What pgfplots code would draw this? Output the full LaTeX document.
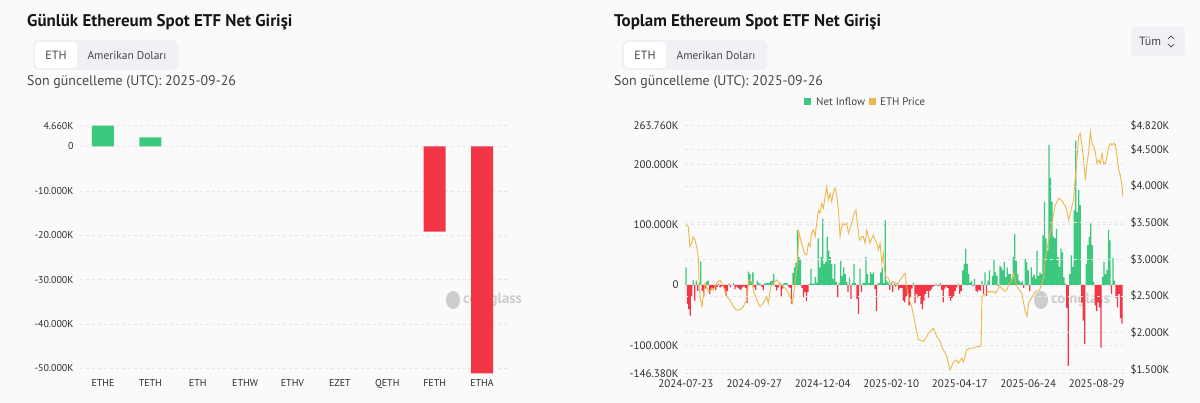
\documentclass[border=0pt]{standalone}
\usepackage{pgfplots}
\pgfplotsset{compat=1.18}
\usepackage{fontspec}
\setmainfont{PT Sans}
\definecolor{bgc}{RGB}{250,250,250}
\definecolor{pillc}{RGB}{239,241,244}
\definecolor{titlec}{RGB}{22,22,22}
\definecolor{subc}{RGB}{70,70,70}
\definecolor{tickc}{RGB}{45,45,45}
\definecolor{gridc}{RGB}{230,230,230}
\definecolor{upc}{RGB}{60,201,127}
\definecolor{downc}{RGB}{242,54,69}
\definecolor{pricec}{RGB}{236,184,76}
\definecolor{wmc}{RGB}{205,205,205}
\begin{document}
\begin{tikzpicture}
\fill[bgc] (0bp,0bp) rectangle (1200bp,403bp);
% ---------- left panel header ----------
\node[anchor=west, inner sep=0, text=titlec, font=\bfseries\fontsize{17}{20}\selectfont] at (27bp,381bp) {Günlük Ethereum Spot ETF Net Girişi};
\fill[pillc, rounded corners=5bp] (33bp,333bp) rectangle (178bp,363bp);
\fill[white, rounded corners=4bp] (35bp,335bp) rectangle (77bp,361bp);
\node[text=subc, font=\fontsize{12}{14}\selectfont] at (56bp,348bp) {ETH};
\node[text=subc, font=\fontsize{11.5}{14}\selectfont] at (127bp,348bp) {Amerikan Doları};
\node[anchor=west, inner sep=0, text=subc, font=\fontsize{14}{16}\selectfont] at (27bp,321bp) {Son güncelleme (UTC): 2025-09-26};
% watermark left
\fill[wmc] (453bp,103bp) ellipse (7bp and 9bp);
\node[anchor=west, inner sep=0, text=wmc, font=\bfseries\fontsize{15}{17}\selectfont] at (463bp,103bp) {coinglass};
% ---------- right panel header ----------
\node[anchor=west, inner sep=0, text=titlec, font=\bfseries\fontsize{17}{20}\selectfont] at (614bp,381bp) {Toplam Ethereum Spot ETF Net Girişi};
\fill[pillc, rounded corners=5bp] (622bp,333bp) rectangle (767bp,363bp);
\fill[white, rounded corners=4bp] (624bp,335bp) rectangle (666bp,361bp);
\node[text=subc, font=\fontsize{12}{14}\selectfont] at (645bp,348bp) {ETH};
\node[text=subc, font=\fontsize{11.5}{14}\selectfont] at (716bp,348bp) {Amerikan Doları};
\node[anchor=west, inner sep=0, text=subc, font=\fontsize{14}{16}\selectfont] at (614bp,321bp) {Son güncelleme (UTC): 2025-09-26};
% Tum button
\fill[pillc, rounded corners=4bp] (1131bp,347bp) rectangle (1185bp,376bp);
\node[anchor=west, inner sep=0, text=subc, font=\fontsize{12}{14}\selectfont] at (1139bp,361.5bp) {Tüm};
\draw[subc, line width=0.7bp] (1168bp,364bp) -- (1171bp,367bp) -- (1174bp,364bp);
\draw[subc, line width=0.7bp] (1168bp,359bp) -- (1171bp,356bp) -- (1174bp,359bp);
% legend
\fill[upc] (804bp,297.5bp) rectangle (811bp,304.5bp);
\node[anchor=west, inner sep=0, text=subc, font=\fontsize{11}{12}\selectfont] at (816bp,301bp) {Net Inflow};
\fill[pricec] (869bp,297.5bp) rectangle (876bp,304.5bp);
\node[anchor=west, inner sep=0, text=subc, font=\fontsize{11}{12}\selectfont] at (880bp,301bp) {ETH Price};
% watermark right
\fill[wmc] (1041bp,103bp) ellipse (7bp and 9bp);
\node[anchor=west, inner sep=0, text=wmc, font=\bfseries\fontsize{15}{17}\selectfont] at (1051bp,103bp) {coinglass};

% ---------- left axis ----------
\begin{axis}[
  at={(80bp,29.7bp)}, anchor=south west, scale only axis,
  width=427bp, height=247.6bp,
  xmin=-0.485, xmax=8.527, ymin=-51.13, ymax=4.66,
  axis line style={draw=none}, major tick length=0pt,
  ymajorgrids, grid style={dashed, gridc, line width=0.5bp},
  ytick={-50,-40,-30,-20,-10,0,4.66},
  yticklabels={-50.000K,-40.000K,-30.000K,-20.000K,-10.000K,0,4.660K},
  xtick={0,1,2,3,4,5,6,7,8},
  xticklabels={ETHE,TETH,ETH,ETHW,ETHV,EZET,QETH,FETH,ETHA},
  yticklabel style={font=\fontsize{10}{12}\selectfont, text=tickc, xshift=-3bp},
  xticklabel style={font=\fontsize{10}{12}\selectfont, text=tickc, yshift=-3bp},
]
\addplot[ybar, bar width=0.464, bar shift=0pt, fill=upc, draw=none] coordinates {(0,4.66) (1,2.05)};
\addplot[ybar, bar width=0.464, bar shift=0pt, fill=downc, draw=none] coordinates {(7,-19.2) (8,-51.13)};
\end{axis}

% ---------- right axis: bars ----------
\begin{axis}[
  at={(685bp,29.7bp)}, anchor=south west, scale only axis,
  width=439bp, height=247.6bp,
  xmin=-0.6, xmax=294.4, ymin=-146.38, ymax=263.76,
  axis line style={draw=none}, major tick length=0pt,
  ymajorgrids, grid style={dashed, gridc, line width=0.5bp},
  ytick={-146.38,-100,0,100,200,263.76},
  yticklabels={-146.380K,-100.000K,0,100.000K,200.000K,263.760K},
  xtick={0,46,92,138,184,230,276},
  xticklabels={2024-07-23,2024-09-27,2024-12-04,2025-02-10,2025-04-17,2025-06-24,2025-08-29},
  yticklabel style={font=\fontsize{11}{13}\selectfont, text=tickc, xshift=-3bp},
  xticklabel style={font=\fontsize{11}{13}\selectfont, text=tickc, yshift=-3bp},
]
\addplot[ybar, bar width=0.85, bar shift=0pt, fill=upc, draw=none] coordinates {
(0,29)(5,8)(7,7)(9,4)(10,39)(14,6)(15,7)(22,2)(29,2)(32,3)(42,22)(43,18)(44,5)(45,21)(48,7)(49,4)(50,2)(53,2)(54,3)(55,3)(56,4)(57,6)(58,7)(59,18)(63,2)(66,3)(67,3)(68,3)
(72,20)(73,29)(74,37)(75,91)(76,46)(77,43)(83,2)(84,27)(85,2)(86,2)(87,13)(88,4)(89,77)(90,29)(91,46)(92,110)(93,35)(94,38)(95,80)(96,57)(97,46)(98,35)(99,10)(100,35)(101,5)(103,3)
(104,40)(105,15)(106,29)(107,18)(108,5)(110,12)(112,3)(113,35)(114,3)(117,27)(119,3)(120,4)(121,46)(122,18)(123,3)(124,21)(125,18)(126,21)(129,2)(130,3)(131,21)(132,29)(133,3)(134,107)(135,7)(136,4)(138,3)(140,2)(142,4)
(153,4)(168,2)(171,3)(183,2)(186,24)(187,35)(188,60)(189,35)(190,18)(191,4)(192,6)(194,10)(199,7)(201,21)(203,7)(204,24)(206,15)(207,42)(208,21)(209,15)(211,32)(212,29)(213,24)(214,38)(215,13)(216,29)(217,18)(218,18)(219,10)(220,46)(221,84)(222,40)(223,18)(224,7)(225,4)(226,6)
(228,43)(229,38)(230,24)(232,29)(233,13)(234,17)(235,10)(236,57)(237,15)(238,21)(239,18)(240,82)(241,138)(242,77)(243,57)(244,232)(245,177)(246,138)(247,80)(248,77)(249,93)(250,46)(251,30)(252,60)(253,54)(254,13)(255,2)
(258,18)(259,49)(260,30)(261,124)(262,239)(263,121)(264,157)(265,132)(269,35)(270,66)(271,79)(272,102)(273,66)(274,5)(280,13)(281,38)(282,18)(283,25)(284,91)(285,74)(287,45)(288,7)
};
\addplot[ybar, bar width=0.85, bar shift=0pt, fill=downc, draw=none] coordinates {
(1,-32)(2,-40)(3,-51)(4,-20)(6,-26)(8,-10)(11,-10)(12,-20)(13,-6)(16,-15)(17,-8)(18,-6)(19,-5)(20,-8)(21,-3)(23,-4)(24,-3)(25,-2)(26,-6)(27,-18)(28,-10)(30,-4)(33,-7)(34,-3)(35,-5)(36,-7)(37,-8)(38,-4)(39,-2)(40,-5)(41,-30)
(46,-4)(47,-8)(51,-3)(52,-9)(60,-3)(61,-9)(62,-4)(64,-20)(65,-6)(69,-3)(70,-5)(71,-31)(78,-5)(79,-20)(80,-12)(81,-27)(82,-12)(102,-20)(109,-12)(111,-23)(115,-23)(116,-48)(118,-12)(127,-7)(128,-43)(137,-8)(139,-12)(141,-3)(143,-8)(144,-5)
(145,-5)(146,-26)(147,-29)(148,-20)(149,-15)(150,-34)(151,-20)(152,-6)(154,-30)(155,-15)(156,-21)(157,-18)(158,-32)(159,-40)(160,-26)(161,-15)(162,-10)(163,-21)(164,-10)(165,-7)(166,-3)(167,-2)(169,-1)(170,-2)
(172,-8)(173,-29)(174,-6)(175,-3)(176,-5)(177,-21)(178,-26)(179,-21)(180,-18)(181,-10)(182,-4)(184,-15)(185,-10)(193,-2)(195,-10)(196,-12)(197,-8)(198,-10)(200,-15)(202,-18)(210,-2)(227,-5)(231,-10)
(256,-38)(257,-134)(266,-29)(267,-59)(268,-98)(275,-34)(276,-43)(277,-29)(278,-37)(279,-104)(286,-15)(289,-21)(290,-37)(291,-15)(292,-55)(293,-64)
};
\end{axis}

% ---------- right axis: price ----------
\begin{axis}[
  at={(685bp,29.7bp)}, anchor=south west, scale only axis,
  width=439bp, height=247.6bp,
  xmin=-0.6, xmax=294.4, ymin=1445.5, ymax=4820,
  axis line style={draw=none}, major tick length=0pt,
  xtick=\empty, ytick pos=right, yticklabel pos=right,
  ymajorgrids, grid style={dashed, gridc, line width=0.5bp},
  ytick={1500,2000,2500,3000,3500,4000,4500,4820},
  yticklabels={\$1.500K,\$2.000K,\$2.500K,\$3.000K,\$3.500K,\$4.000K,\$4.500K,\$4.820K},
  yticklabel style={font=\fontsize{11}{13}\selectfont, text=tickc, xshift=3bp},
]
\addplot[pricec, line width=0.9bp, mark=none] coordinates {
(0,3467)(1.6,3444)(2.7,3172)(3.8,3217)(4.9,3308)(6.1,3263)(7.2,3172)(8.3,3036)(9,2582)(9.9,2446)(10.8,2355)(11.7,2490)(12.8,2672)(13.9,2627)(15,2559)(16.1,2559)(17.3,2604)(18.4,2582)(19.5,2627)(20.6,2672)(22.9,2718)(25.1,2627)(27.4,2490)(29.6,2446)(31.8,2355)(34.1,2310)(36.3,2310)(38.6,2355)(40.8,2446)
(42.4,2718)(44.2,2695)(45.3,2582)(47.5,2446)(49.8,2355)(52,2400)(54.3,2490)(55.4,2400)(57,2627)(58.7,2672)(61,2718)(63.2,2672)(65.5,2627)(67.7,2582)(70,2490)(71.7,2400)(73.3,2672)(74.9,2945)(76,3376)(77.1,3263)(78.5,3172)(79.6,3081)(81.2,3059)(82.3,3217)(83.4,3172)(84.5,3354)(85.7,3399)(86.8,3308)(87.9,3490)
(89,3671)(90.1,3626)(91.3,3762)(92.4,3694)(93.5,3853)(94.6,3989)(95.7,3808)(96.9,3898)(98,3785)(99.1,3921)(100.2,3966)(101.3,3876)(102.5,3671)(103.6,3308)(104.7,3444)(105.8,3490)(106.9,3467)(108.1,3490)(109.2,3354)(110.3,3422)(111.4,3490)(113,3626)(114.3,3671)(115.2,3490)(116.6,3263)(118.2,3308)(119.3,3308)(120.4,3217)
(121.5,3399)(122.6,3308)(123.8,3217)(124.9,3285)(126,3331)(127.1,3263)(128.3,3217)(129.4,3127)(130.5,3217)(131.6,2946)(132.7,3081)(133.4,2854)(134.5,2763)(136.1,2741)(137.2,2672)(139.5,2695)(141.7,2650)(143.9,2718)(147.3,2809)(148.2,2650)(149.5,2491)(151.7,2355)(154,2128)(156.2,1901)(157.5,1900)(159.6,1878)
(161.9,1946)(163,1992)(164.1,2014)(166.3,2060)(168.6,1946)(170.9,1878)(171.9,1810)(174.2,1719)(175.3,1674)(177.5,1492)(179.8,1600)(182.1,1628)(183.1,1583)(185.4,1651)(186.5,1600)(188.7,1765)(191,1787)(193.2,1787)(195.5,1810)(197.7,1810)(198.4,1833)(198.9,2491)(202.2,2536)(203.4,2559)(206.7,2559)(207.9,2536)
(210.1,2604)(211.2,2627)(214.6,2559)(215.7,2582)(216.8,2650)(219.1,2718)(220.2,2809)(222.4,2627)(225.8,2536)(226.9,2400)(228,2287)(229.2,2219)(230.3,2400)(231.4,2446)(234.8,2559)(237.7,2582)(239.2,2672)(240.4,2763)(241.5,2990)(242.6,3127)(243.7,3263)(244.9,3354)(246,3467)(247.1,3626)(248.2,3739)(250.5,3830)
(252.7,3794)(255.1,3717)(256.1,3649)(257.2,3535)(258.3,3626)(259.4,3717)(260.5,3807)(261.7,4125)(262.8,4352)(263.9,4670)(265,4716)(266.2,4534)(267.3,4352)(268.4,4080)(269.5,4307)(270.6,4443)(271.8,4738)(272.9,4580)(274,4534)(275.1,4466)(276.2,4307)(277.4,4352)(278.5,4307)(279.6,4443)(280.7,4307)(281.8,4307)
(283,4398)(284.1,4534)(285.2,4579)(286.3,4557)(287.5,4579)(288.6,4557)(289.7,4398)(290.8,4216)(291.9,4148)(293.1,3989)(293.7,3853)
};
\end{axis}
\end{tikzpicture}
\end{document}
